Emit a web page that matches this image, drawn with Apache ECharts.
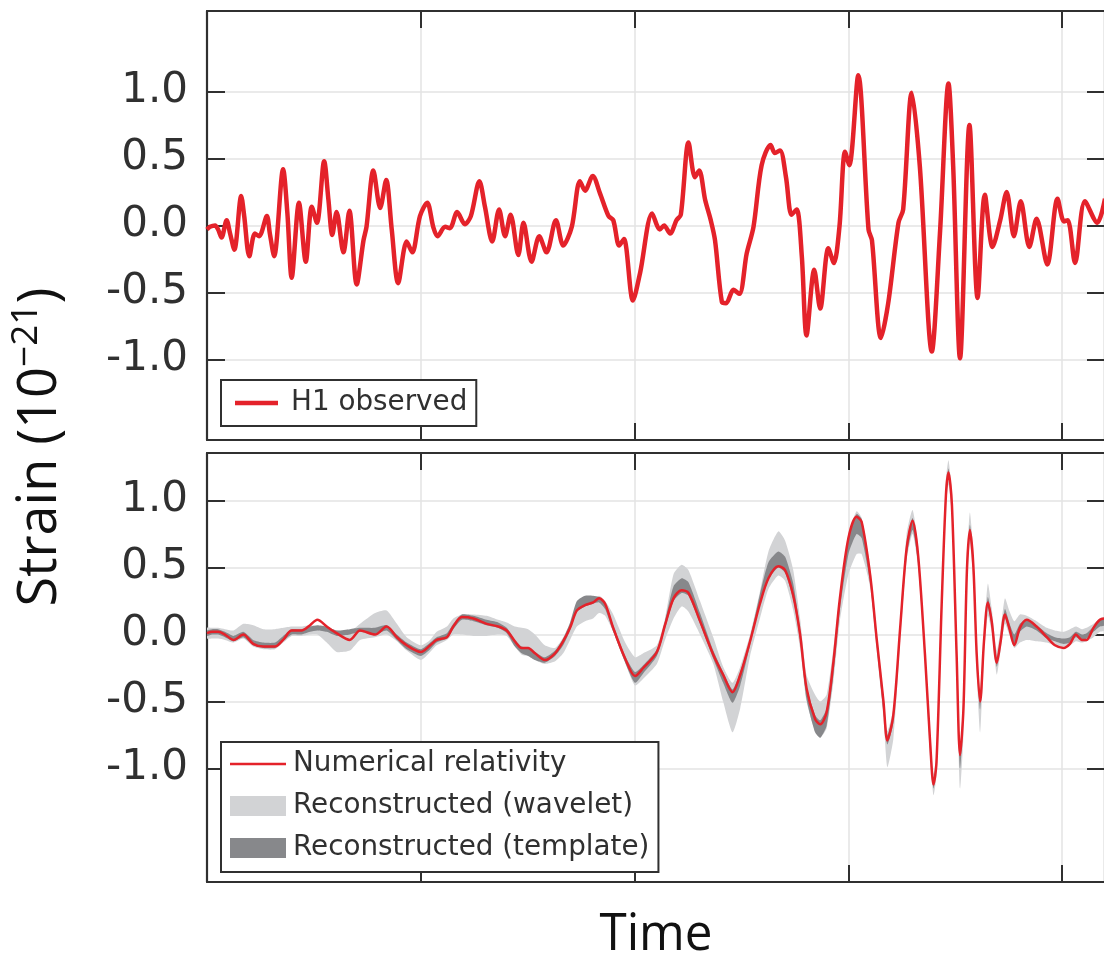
<!DOCTYPE html>
<html>
<head>
<meta charset="utf-8">
<title>Strain</title>
<script src="https://cdn.jsdelivr.net/npm/echarts@6/dist/echarts.min.js"></script>
<style>
  html, body { margin: 0; padding: 0; background: #fff; }
  #chart { width: 1104px; height: 957px; }
</style>
</head>
<body>
<div id="chart"></div>
<script>
// H1 observed strain (in units of 1e-21) against time (s)
const obsTime = [
  0.2500,0.2507,0.2519,0.2526,0.2534,0.2546,0.2554,0.2564,0.2580,0.2587,
  0.2599,0.2612,0.2622,0.2640,0.2647,0.2657,0.2678,0.2688,0.2698,0.2715,
  0.2731,0.2745,0.2757,0.2774,0.2784,0.2793,0.2803,0.2819,0.2833,0.2850,
  0.2866,0.2873,0.2889,0.2905,0.2919,0.2932,0.2947,0.2967,0.2980,0.2998,
  0.3015,0.3029,0.3039,0.3057,0.3068,0.3085,0.3103,0.3117,0.3137,0.3150,
  0.3167,0.3183,0.3197,0.3210,0.3228,0.3240,0.3259,0.3277,0.3294,0.3316,
  0.3333,0.3353,0.3372,0.3384,0.3402,0.3419,0.3439,0.3450,0.3464,0.3475,
  0.3496,0.3513,0.3541,0.3559,0.3569,0.3583,0.3598,0.3608,0.3626,0.3641,
  0.3651,0.3665,0.3678,0.3688,0.3704,0.3714,0.3731,0.3745,0.3762,0.3778,
  0.3797,0.3818,0.3828,0.3840,0.3854,0.3867,0.3879,0.3891,0.3902,0.3920,
  0.3934,0.3953,0.3966,0.3979,0.3992,0.4002,0.4023,0.4047,0.4055,0.4076,
  0.4093,0.4117,0.4128,0.4148,0.4167,0.4195,0.4214,0.4234,0.4245,0.4261,
  0.4283,0.4302,0.4319,0.4337,0.4355,0.4370,0.4387,0.4403,0.4423,0.4440,
  0.4465,0.4489,0.4504,0.4513,0.4530,0.4553,0.4582,0.4600
];
const obsStrain = [
  -0.03,-0.01,0.00,-0.03,-0.09,0.04,-0.06,-0.18,0.22,0.07,
  -0.23,-0.06,-0.08,0.07,-0.06,-0.23,0.42,0.09,-0.39,0.17,
  -0.27,0.14,0.02,0.48,0.19,-0.07,0.10,-0.20,0.11,-0.44,
  -0.11,-0.01,0.41,0.13,0.34,-0.03,-0.43,-0.12,-0.20,0.07,
  0.17,-0.01,-0.08,-0.01,-0.02,0.10,0.01,0.07,0.33,0.14,
  -0.12,0.12,-0.08,0.08,-0.22,0.02,-0.27,-0.08,-0.20,0.04,
  -0.15,-0.01,0.33,0.26,0.37,0.24,0.07,0.04,-0.15,-0.10,
  -0.56,-0.35,0.09,-0.03,0.00,-0.06,0.04,0.08,0.62,0.36,
  0.41,0.19,0.04,-0.11,-0.57,-0.58,-0.48,-0.51,-0.21,-0.01,
  0.45,0.60,0.54,0.56,0.36,0.08,0.12,-0.23,-0.82,-0.33,
  -0.62,-0.17,-0.28,-0.01,0.55,0.45,1.12,-0.03,-0.11,-0.84,
  -0.58,0.02,0.12,0.99,0.44,-0.94,-0.06,1.06,0.44,-0.99,
  0.75,-0.54,0.23,-0.16,0.04,0.25,-0.08,0.18,-0.16,0.05,
  -0.29,0.20,0.03,0.04,-0.28,0.18,0.02,0.20
];

// Numerical relativity waveform and the two reconstruction bands, on one time grid
const nrTime = [
  0.2500,0.2512,0.2526,0.2542,0.2562,0.2585,0.2608,0.2632,0.2659,0.2678,
  0.2698,0.2721,0.2741,0.2758,0.2780,0.2803,0.2834,0.2858,0.2893,0.2920,
  0.2944,0.2967,0.3000,0.3022,0.3037,0.3061,0.3076,0.3096,0.3123,0.3154,
  0.3181,0.3201,0.3220,0.3236,0.3251,0.3267,0.3290,0.3314,0.3333,0.3349,
  0.3365,0.3384,0.3403,0.3417,0.3431,0.3450,0.3478,0.3501,0.3520,0.3552,
  0.3571,0.3591,0.3610,0.3626,0.3653,0.3684,0.3707,0.3729,0.3747,0.3770,
  0.3793,0.3813,0.3836,0.3852,0.3871,0.3887,0.3902,0.3922,0.3934,0.3949,
  0.3965,0.3980,0.4000,0.4019,0.4031,0.4051,0.4066,0.4082,0.4091,0.4105,
  0.4121,0.4136,0.4150,0.4163,0.4179,0.4191,0.4199,0.4206,0.4218,0.4228,
  0.4234,0.4242,0.4253,0.4261,0.4269,0.4277,0.4284,0.4292,0.4300,0.4308,
  0.4317,0.4326,0.4335,0.4347,0.4356,0.4366,0.4376,0.4388,0.4401,0.4417,
  0.4440,0.4464,0.4483,0.4503,0.4518,0.4532,0.4546,0.4557,0.4573,0.4588,0.4600
];
const nrStrain = [
  0.01,0.02,0.02,0.00,-0.04,0.00,-0.07,-0.09,-0.09,-0.04,
  0.03,0.03,0.07,0.11,0.06,0.01,-0.04,0.03,0.00,0.06,
  -0.02,-0.08,-0.13,-0.08,-0.04,-0.02,0.06,0.13,0.12,0.08,
  0.06,0.03,-0.05,-0.10,-0.10,-0.14,-0.19,-0.14,-0.05,0.05,
  0.18,0.22,0.24,0.27,0.23,0.05,-0.18,-0.31,-0.25,-0.13,
  0.07,0.27,0.33,0.31,0.10,-0.15,-0.30,-0.43,-0.30,-0.05,
  0.23,0.42,0.51,0.48,0.29,0.00,-0.40,-0.63,-0.67,-0.58,
  -0.20,0.27,0.72,0.88,0.84,0.44,-0.03,-0.50,-0.79,-0.60,
  0.05,0.64,0.85,0.59,-0.15,-0.80,-1.12,-0.95,0.22,1.04,
  1.21,0.97,-0.15,-0.90,-0.55,0.47,0.78,0.52,-0.15,-0.50,
  -0.05,0.24,0.10,-0.21,-0.05,0.15,0.05,-0.08,0.05,0.11,
  0.06,-0.02,-0.08,-0.10,-0.07,0.00,-0.04,-0.04,0.05,0.11,0.12
];
const waveletLow = [
  -0.03,-0.03,-0.03,-0.04,-0.06,-0.03,-0.09,-0.11,-0.11,-0.06,
  -0.01,-0.01,0.00,0.00,-0.06,-0.13,-0.12,-0.04,-0.02,0.00,
  -0.05,-0.12,-0.19,-0.13,-0.08,-0.04,0.00,0.00,-0.01,-0.01,
  0.00,-0.01,-0.09,-0.15,-0.16,-0.19,-0.22,-0.20,-0.14,-0.04,
  0.06,0.10,0.12,0.16,0.14,0.02,-0.21,-0.38,-0.33,-0.22,
  -0.04,0.12,0.21,0.17,0.00,-0.22,-0.50,-0.73,-0.55,-0.16,
  0.12,0.34,0.44,0.40,0.18,-0.10,-0.50,-0.72,-0.77,-0.70,
  -0.35,0.10,0.45,0.60,0.60,0.35,-0.12,-0.62,-0.99,-0.78,
  -0.05,0.55,0.75,0.50,-0.22,-0.92,-1.20,-1.05,0.12,0.95,
  1.12,0.88,-0.25,-1.15,-0.75,0.35,0.68,0.42,-0.28,-0.73,
  -0.15,0.14,0.02,-0.30,-0.12,0.08,0.00,-0.10,-0.06,-0.04,
  -0.05,-0.06,-0.08,-0.09,-0.08,-0.05,-0.06,-0.05,-0.02,0.02,0.03
];
const waveletHigh = [
  0.05,0.05,0.05,0.04,0.03,0.08,0.07,0.04,0.04,0.05,
  0.06,0.06,0.07,0.06,0.05,0.03,0.02,0.08,0.16,0.18,
  0.08,-0.02,-0.08,-0.04,0.02,0.06,0.12,0.15,0.15,0.14,
  0.11,0.09,0.06,0.05,0.04,0.00,-0.08,-0.10,-0.02,0.08,
  0.22,0.27,0.27,0.29,0.25,0.15,-0.06,-0.17,-0.14,-0.08,
  0.12,0.45,0.52,0.48,0.25,-0.02,-0.24,-0.36,-0.24,0.00,
  0.32,0.62,0.77,0.70,0.48,0.12,-0.30,-0.45,-0.50,-0.45,
  -0.10,0.30,0.75,0.92,0.87,0.50,0.02,-0.44,-0.72,-0.55,
  0.10,0.75,0.93,0.66,-0.08,-0.72,-1.04,-0.88,0.30,1.15,
  1.30,1.05,-0.05,-0.82,-0.45,0.55,0.91,0.62,-0.08,-0.42,
  0.02,0.38,0.20,-0.12,0.04,0.27,0.18,0.10,0.15,0.14,
  0.10,0.05,0.03,0.02,0.04,0.06,0.04,0.05,0.08,0.12,0.13
];
const templateLow = [
  -0.01,0.00,0.00,-0.02,-0.05,-0.02,-0.08,-0.10,-0.10,-0.05,
  0.00,0.00,0.02,0.03,0.02,-0.01,0.00,0.02,0.00,0.03,
  -0.04,-0.11,-0.16,-0.11,-0.06,-0.03,0.04,0.11,0.10,0.07,
  0.05,0.01,-0.09,-0.14,-0.16,-0.19,-0.21,-0.16,-0.08,0.03,
  0.17,0.21,0.23,0.24,0.19,0.02,-0.21,-0.36,-0.29,-0.16,
  0.04,0.25,0.31,0.29,0.08,-0.18,-0.36,-0.51,-0.38,-0.08,
  0.22,0.41,0.50,0.46,0.26,-0.04,-0.48,-0.73,-0.77,-0.68,
  -0.30,0.18,0.60,0.75,0.72,0.38,-0.08,-0.58,-0.82,-0.66,
  0.00,0.58,0.78,0.53,-0.18,-0.86,-1.15,-0.99,0.18,1.00,
  1.17,0.93,-0.20,-1.00,-0.62,0.42,0.74,0.48,-0.20,-0.56,
  -0.08,0.20,0.06,-0.24,-0.08,0.12,0.03,-0.08,0.02,0.06,
  0.03,-0.03,-0.05,-0.07,-0.06,-0.02,-0.04,-0.03,0.02,0.06,0.07
];
const templateHigh = [
  0.03,0.04,0.04,0.02,-0.01,0.02,-0.04,-0.06,-0.06,-0.01,
  0.04,0.04,0.06,0.07,0.06,0.03,0.04,0.05,0.05,0.07,
  0.00,-0.06,-0.11,-0.06,-0.02,0.01,0.08,0.15,0.14,0.11,
  0.09,0.05,-0.04,-0.09,-0.10,-0.13,-0.17,-0.12,-0.03,0.09,
  0.25,0.29,0.29,0.28,0.24,0.07,-0.16,-0.28,-0.23,-0.11,
  0.10,0.36,0.42,0.39,0.16,-0.12,-0.28,-0.41,-0.28,-0.03,
  0.30,0.54,0.62,0.58,0.38,0.04,-0.38,-0.60,-0.64,-0.55,
  -0.18,0.28,0.74,0.90,0.86,0.46,0.00,-0.48,-0.75,-0.58,
  0.07,0.68,0.87,0.62,-0.12,-0.78,-1.08,-0.92,0.26,1.08,
  1.24,1.00,-0.10,-0.86,-0.50,0.50,0.82,0.56,-0.10,-0.46,
  -0.02,0.28,0.14,-0.17,-0.02,0.19,0.09,0.00,0.08,0.11,
  0.07,0.01,-0.02,-0.03,-0.02,0.02,0.00,0.01,0.06,0.11,0.12
];

// Tick positions
const strainTicks = [-1.0, -0.5, 0.0, 0.5, 1.0];
const timeTicks = [0.30, 0.35, 0.40, 0.45];

const RED = '#e4222a';
const LIGHT = '#d2d3d5';
const DARK = '#87888b';
const INK = '#303030';

const chart = echarts.init(document.getElementById('chart'), null, { renderer: 'canvas' });

const spine = { show: true, onZero: false, lineStyle: { color: INK, width: 2.2 } };
const tickStyle = { color: INK, width: 2 };
const gridLineStyle = { color: '#e3e3e3', width: 1.5 };

function timeAxes(gridIndex) {
  const base = { type: 'value', gridIndex, min: 0.25, max: 0.46, axisLine: spine, axisLabel: { show: false } };
  return [
    Object.assign({}, base, {
      position: 'bottom',
      axisTick: { show: true, inside: true, length: 17, customValues: timeTicks, lineStyle: tickStyle },
      splitLine: { show: true, lineStyle: gridLineStyle }
    }),
    Object.assign({}, base, {
      position: 'top',
      axisTick: { show: true, inside: true, length: 17, customValues: timeTicks, lineStyle: tickStyle },
      splitLine: { show: false }
    })
  ];
}

function strainAxes(gridIndex, min, max) {
  const base = { type: 'value', gridIndex, min, max, axisLine: spine };
  return [
    Object.assign({}, base, {
      position: 'left',
      axisTick: { show: true, inside: true, length: 18, customValues: strainTicks, lineStyle: tickStyle },
      axisLabel: {
        show: true, customValues: strainTicks, margin: 19,
        fontFamily: 'DejaVu Sans', fontSize: 42, color: INK,
        formatter: (v) => v.toFixed(1)
      },
      splitLine: { show: true, lineStyle: gridLineStyle }
    }),
    Object.assign({}, base, {
      position: 'right',
      axisTick: { show: true, inside: true, length: 18, customValues: strainTicks, lineStyle: tickStyle },
      axisLabel: { show: false },
      splitLine: { show: false }
    })
  ];
}

function band(name, lo, hi, color) {
  return {
    type: 'custom',
    name,
    xAxisIndex: 2,
    yAxisIndex: 2,
    clip: true,
    silent: true,
    itemStyle: { color },
    data: [[nrTime[0], nrStrain[0]]],
    renderItem: function (params, api) {
      const pts = [];
      for (let i = 0; i < nrTime.length; i++) pts.push(api.coord([nrTime[i], hi[i]]));
      for (let i = nrTime.length - 1; i >= 0; i--) pts.push(api.coord([nrTime[i], lo[i]]));
      return {
        type: 'polygon',
        shape: { points: pts, smooth: 0.2 },
        style: { fill: color, stroke: null }
      };
    }
  };
}

const legendText = { fontFamily: 'DejaVu Sans', fontSize: 27.8, color: INK };

const option = {
  animation: false,
  backgroundColor: '#ffffff',
  grid: [
    { left: 207, top: 11, width: 898, height: 429, containLabel: false, outerBoundsMode: 'none' },
    { left: 207, top: 453, width: 898, height: 429, containLabel: false, outerBoundsMode: 'none' }
  ],
  xAxis: [].concat(timeAxes(0), timeAxes(1)),
  yAxis: [].concat(strainAxes(0, -1.6, 1.6), strainAxes(1, -1.847, 1.355)),
  legend: [
    {
      data: [{ name: 'H1 observed', icon: 'path://M0,0H43V4.5H0Z' }],
      left: 221, top: 380,
      orient: 'horizontal',
      backgroundColor: '#ffffff',
      borderColor: INK, borderWidth: 2, borderRadius: 0,
      padding: [9, 9, 9, 14],
      itemWidth: 43, itemHeight: 20,
      selectedMode: false,
      textStyle: Object.assign({ padding: [0, 0, 0, 8] }, legendText)
    },
    {
      data: [
        { name: 'Numerical relativity', icon: 'path://M0,0H56V2.4H0Z' },
        { name: 'Reconstructed (wavelet)', icon: 'rect' },
        { name: 'Reconstructed (template)', icon: 'rect' }
      ],
      left: 221, top: 742,
      orient: 'vertical',
      backgroundColor: '#ffffff',
      borderColor: INK, borderWidth: 2, borderRadius: 0,
      padding: [8, 9, 10, 9],
      itemGap: 14,
      itemWidth: 56, itemHeight: 20,
      selectedMode: false,
      textStyle: Object.assign({ padding: [0, 0, 0, 2] }, legendText)
    }
  ],
  graphic: [
    {
      type: 'text',
      x: 656, y: 935,
      scaleX: 0.95,
      style: {
        text: 'Time',
        font: '52px "Open Sans"',
        fill: '#111111',
        align: 'center', verticalAlign: 'middle',
        textAlign: 'center', textVerticalAlign: 'middle'
      }
    },
    {
      type: 'text',
      x: 41, y: 447,
      rotation: Math.PI / 2,
      scaleX: 1.0,
      style: {
        text: '{a|Strain (10}{b|\u221221}{a|)}',
        align: 'center', verticalAlign: 'middle',
        textAlign: 'center', textVerticalAlign: 'middle',
        rich: {
          a: { fontFamily: 'Open Sans', fontSize: 54, fill: '#111111', lineHeight: 66 },
          b: { fontFamily: 'Open Sans', fontSize: 37, fill: '#111111', lineHeight: 44, verticalAlign: 'top' }
        }
      }
    }
  ],
  series: [
    {
      type: 'line',
      name: 'H1 observed',
      xAxisIndex: 0, yAxisIndex: 0,
      data: obsTime.map((t, i) => [t, obsStrain[i]]),
      symbol: 'none',
      smooth: 0.3,
      clip: true,
      lineStyle: { color: RED, width: 4.5 },
      itemStyle: { color: RED },
      z: 3
    },
    band('Reconstructed (wavelet)', waveletLow, waveletHigh, LIGHT),
    band('Reconstructed (template)', templateLow, templateHigh, DARK),
    {
      type: 'line',
      name: 'Numerical relativity',
      xAxisIndex: 2, yAxisIndex: 2,
      data: nrTime.map((t, i) => [t, nrStrain[i]]),
      symbol: 'none',
      smooth: 0.3,
      clip: true,
      lineStyle: { color: RED, width: 2.5 },
      itemStyle: { color: RED },
      z: 4
    }
  ]
};

chart.setOption(option);
</script>
</body>
</html>
